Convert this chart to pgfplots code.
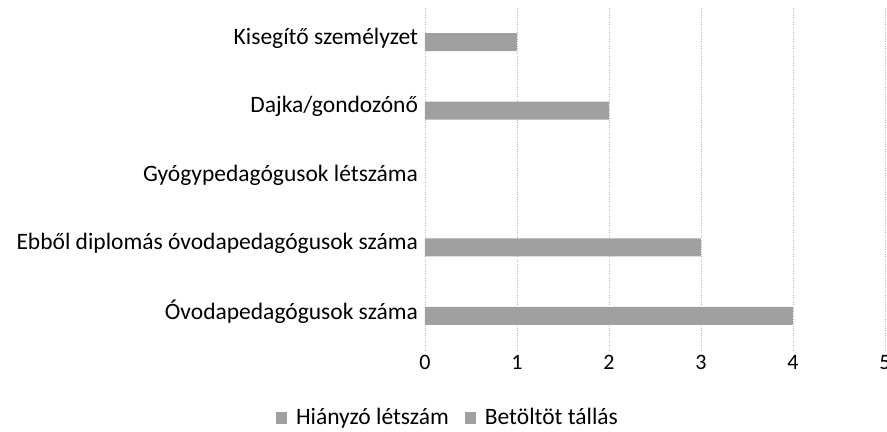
\documentclass[border=0pt]{standalone}
\usepackage{fontspec}
\setmainfont{Carlito}
\usepackage{pgfplots}
\pgfplotsset{compat=1.18}
\definecolor{barfill}{RGB}{160,160,160}
\definecolor{gridc}{RGB}{185,185,185}
\begin{document}
\fontsize{23.5bp}{27bp}\selectfont
\begin{tikzpicture}
\begin{axis}[
  xbar stacked, bar width=18bp,
  scale only axis, width=460bp, height=342bp,
  xmin=0, xmax=5, ymin=-0.5, ymax=4.5,
  xtick={0,1,2,3,4,5}, ytick={0,1,2,3,4},
  yticklabels={Óvodapedagógusok száma,Ebből diplomás óvodapedagógusok száma,Gyógypedagógusok létszáma,Dajka/gondozónő,Kisegítő személyzet},
  axis line style={draw=none}, major tick length=0pt,
  xmajorgrids, grid style={gridc, dotted, line width=0.7bp},
  yticklabel style={font=\fontsize{23.5bp}{27bp}\selectfont, xshift=1bp, yshift=4bp},
  xticklabel style={font=\fontsize{22bp}{26bp}\selectfont, yshift=3bp},
  /pgf/number format/assume math mode=true,
  legend style={at={(rel axis cs:0.05,-0.20)}, anchor=center, draw=none,
    legend columns=2, font=\fontsize{23.5bp}{27bp}\selectfont,
    /tikz/every odd column/.append style={column sep=7bp},
    /tikz/every even column/.append style={column sep=14bp}},
  legend image code/.code={\fill[barfill] (0bp,-6bp) rectangle (11bp,6bp);},
]
\coordinate (o) at (rel axis cs:0,0);
\addplot[fill=barfill, draw=none] coordinates {(4,0) (3,1) (0,2) (2,3) (1,4)};
\addplot[fill=barfill, draw=none] coordinates {(0,0) (0,1) (0,2) (0,3) (0,4)};
\legend{Hiányzó létszám,Betöltöt tállás}
\end{axis}
\pgfresetboundingbox
\useasboundingbox ([shift={(-425bp,-82bp)}]o) rectangle ([shift={(462bp,350bp)}]o);
\end{tikzpicture}
\end{document}
